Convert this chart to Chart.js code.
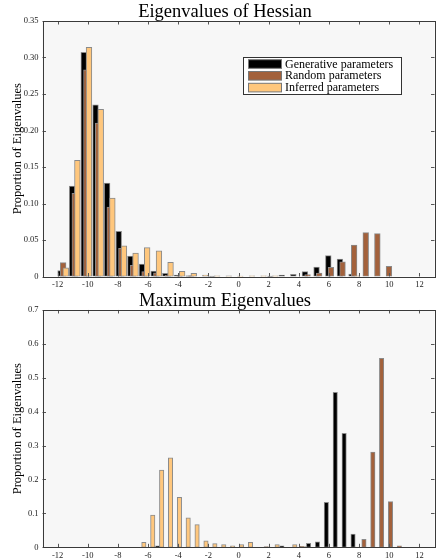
<!DOCTYPE html>
<html>
<head>
<meta charset="utf-8">
<script src="https://cdn.jsdelivr.net/npm/chart.js@4.4.0/dist/chart.umd.min.js"></script>
<style>
  html, body { margin: 0; padding: 0; background: #fff; overflow: hidden; width: 441px; height: 560px; }
  .panel { position: absolute; left: 0; width: 450px; }
  #panelTop { top: 0; height: 290px; }
  #panelBottom { top: 290px; height: 270px; }
  canvas { display: block; }
</style>
</head>
<body>
<div class="panel" id="panelTop"><canvas id="hessChart" width="450" height="290"></canvas></div>
<div class="panel" id="panelBottom"><canvas id="maxChart" width="450" height="270"></canvas></div>
<script>
// ---- data ----------------------------------------------------------------
const seriesNames = ['Generative parameters', 'Random parameters', 'Inferred parameters'];
const xTickValues = [-12, -10, -8, -6, -4, -2, 0, 2, 4, 6, 8, 10, 12];

// Eigenvalues of Hessian: histogram bin centres and proportions
const hessBins = [-11.63, -10.86, -10.09, -9.31, -8.54, -7.77, -7.00, -6.23, -5.45, -4.68,
                  -3.91, -3.14, -2.37, -1.59, -0.82, -0.05, 0.72, 1.49, 2.27, 3.04,
                  3.81, 4.58, 5.35, 6.13, 6.90, 7.67, 8.44, 9.21, 9.98];
const hessGenerative = [0.008, 0.124, 0.307, 0.235, 0.128, 0.062, 0.028, 0.017, 0.0075, 0.0044,
                        0.002, 0.001, 0, 0.0005, 0, 0, 0, 0, 0.0005, 0.002,
                        0.003, 0.0066, 0.013, 0.0285, 0.024, 0.0034, 0, 0, 0];
const hessRandom = [0.019, 0.114, 0.283, 0.210, 0.095, 0.0386, 0.0153, 0.0066, 0.005, 0.002,
                    0.001, 0.001, 0, 0, 0, 0, 0, 0, 0, 0,
                    0, 0.0025, 0.0048, 0.0126, 0.020, 0.043, 0.060, 0.0587, 0.014];
const hessInferred = [0.012, 0.159, 0.314, 0.229, 0.1075, 0.042, 0.032, 0.0395, 0.0353, 0.0195,
                      0.0072, 0.0044, 0.002, 0.001, 0.0008, 0.0005, 0.001, 0.001, 0.001, 0,
                      0, 0, 0, 0, 0, 0.001, 0, 0, 0];

// Maximum eigenvalues: histogram bin centres and proportions
const maxBins = [-6.41, -5.82, -5.23, -4.64, -4.05, -3.47, -2.88, -2.29, -1.70, -1.11,
                 -0.52, 0.07, 0.66, 1.25, 1.84, 2.43, 3.01, 3.60, 4.19, 4.78,
                 5.37, 5.96, 6.55, 7.14, 7.73, 8.32, 8.91, 9.49, 10.08, 10.67];
const maxGenerative = [0, 0, 0.004, 0, 0, 0, 0, 0, 0, 0,
                       0, 0, 0, 0, 0, 0, 0.004, 0, 0, 0.012,
                       0.016, 0.133, 0.457, 0.336, 0.039, 0, 0, 0, 0, 0];
const maxRandom = [0, 0, 0, 0, 0, 0, 0, 0, 0, 0,
                   0, 0, 0, 0, 0.002, 0, 0, 0, 0.003, 0,
                   0, 0, 0, 0, 0, 0.0236, 0.281, 0.5575, 0.1345, 0.004];
const maxInferred = [0.015, 0.095, 0.228, 0.264, 0.1475, 0.087, 0.067, 0.019, 0.011, 0.0078,
                     0.0047, 0.0078, 0.0147, 0, 0.001, 0.008, 0, 0.008, 0.002, 0,
                     0, 0, 0, 0, 0.001, 0, 0, 0, 0, 0];

// ---- styling ---------------------------------------------------------------
const SERIF = "'Liberation Serif', 'DejaVu Serif', serif";
const COLORS = ['#000000', '#a3613b', '#ffc77d'];
const EDGE = '#8a8a8a';
// side-by-side placement inside each bin (fraction of bin width), and draw order
const BAR_SHIFT = [-0.225, 0, 0.225];
const DRAW_ORDER = [2, 1, 0];   // inferred on top, generative underneath

function buildDatasets(bins, seriesValues, thickness) {
  const step = bins[1] - bins[0];
  return seriesValues.map((vals, s) => ({
    label: seriesNames[s],
    data: bins.map((b, i) => ({ x: b + BAR_SHIFT[s] * step, y: vals[i] })),
    backgroundColor: COLORS[s],
    borderColor: EDGE,
    borderWidth: 1,
    borderSkipped: false,
    grouped: false,
    barThickness: thickness,
    order: DRAW_ORDER[s]
  }));
}

// plot-area background, box frame and inward tick marks on all four sides
const framePlugin = {
  id: 'frame',
  afterLayout(chart) {
    // centre the title over the figure rather than over the padded layout box
    if (chart.titleBlock) chart.titleBlock.left = 15.5;
  },
  beforeDraw(chart) {
    const { ctx, chartArea: a } = chart;
    ctx.save();
    ctx.fillStyle = '#f7f7f7';
    ctx.fillRect(a.left, a.top, a.right - a.left, a.bottom - a.top);
    ctx.restore();
  },
  afterDatasetsDraw(chart) {
    const { ctx, chartArea: a, scales: { x, y } } = chart;
    const len = 3.5;
    ctx.save();
    ctx.strokeStyle = '#555';
    ctx.lineWidth = 1;
    ctx.beginPath();
    x.ticks.forEach(t => {
      const px = Math.round(x.getPixelForValue(t.value)) + 0.5;
      ctx.moveTo(px, a.bottom); ctx.lineTo(px, a.bottom - len);
      ctx.moveTo(px, a.top); ctx.lineTo(px, a.top + len);
    });
    y.ticks.forEach(t => {
      const py = Math.round(y.getPixelForValue(t.value)) + 0.5;
      ctx.moveTo(a.left, py); ctx.lineTo(a.left + len, py);
      ctx.moveTo(a.right, py); ctx.lineTo(a.right - len, py);
    });
    ctx.stroke();
    ctx.strokeStyle = '#3a3a3a';
    ctx.strokeRect(Math.round(a.left) + 0.5, Math.round(a.top) + 0.5,
                   Math.round(a.right - a.left), Math.round(a.bottom - a.top));
    ctx.restore();
  }
};

// boxed legend placed inside the plot area, upper right
const boxLegendPlugin = {
  id: 'boxLegend',
  afterDraw(chart, args, opts) {
    if (!opts.display) return;
    const { ctx, chartArea: a } = chart;
    const x0 = a.left + opts.offsetX, y0 = a.top + opts.offsetY;
    ctx.save();
    ctx.fillStyle = '#fff';
    ctx.fillRect(x0, y0, opts.width, opts.height);
    ctx.strokeStyle = '#333';
    ctx.lineWidth = 1;
    ctx.strokeRect(Math.round(x0) + 0.5, Math.round(y0) + 0.5, opts.width, opts.height);
    ctx.font = '12px ' + SERIF;
    ctx.textBaseline = 'middle';
    chart.data.datasets.forEach((ds, i) => {
      const cy = y0 + 7 + i * 11.8;
      ctx.fillStyle = ds.backgroundColor;
      ctx.fillRect(x0 + 5.5, cy - 4.3, 33, 8.6);
      ctx.strokeStyle = '#777';
      ctx.strokeRect(x0 + 5.5, cy - 4.3, 33, 8.6);
      ctx.fillStyle = '#000';
      ctx.fillText(ds.label, x0 + 42, cy + 0.5);
    });
    ctx.restore();
  }
};

function makeChart(canvasId, title, bins, seriesValues, yMax, yStep, thickness, axisHeight, titleCfg, showLegend) {
  return new Chart(document.getElementById(canvasId), {
    type: 'bar',
    data: { datasets: buildDatasets(bins, seriesValues, thickness) },
    plugins: [framePlugin, boxLegendPlugin],
    options: {
      responsive: false,
      animation: false,
      devicePixelRatio: 1,
      layout: { padding: { left: 0, right: 15.5, top: 0, bottom: 0 } },
      plugins: {
        legend: { display: false },
        tooltip: { enabled: false },
        title: {
          display: true,
          text: title,
          color: '#000',
          font: { family: SERIF, size: 18.5, weight: 'normal', lineHeight: titleCfg.lineHeight },
          padding: { top: titleCfg.top, bottom: titleCfg.bottom }
        },
        boxLegend: { display: showLegend, offsetX: 200.5, offsetY: 36, width: 158, height: 37 }
      },
      scales: {
        x: {
          type: 'linear',
          min: -12, max: 12,
          grid: { display: false, drawTicks: false },
          border: { display: false },
          afterBuildTicks: s => { s.ticks = xTickValues.map(v => ({ value: v })); },
          ticks: { color: '#222', font: { family: SERIF, size: 8.5 }, padding: 3, maxRotation: 0, autoSkip: false },
          afterFit: s => { s.height = axisHeight; }
        },
        y: {
          min: 0, max: yMax,
          grid: { display: false, drawTicks: false },
          border: { display: false },
          ticks: { stepSize: yStep, color: '#222', font: { family: SERIF, size: 8.5 }, padding: 4 },
          title: {
            display: true,
            text: 'Proportion of Eigenvalues',
            color: '#000',
            font: { family: SERIF, size: 12.5 },
            padding: { top: 10, bottom: 0 }
          },
          afterFit: s => { s.width = 42.5; }
        }
      }
    }
  });
}

makeChart('hessChart', 'Eigenvalues of Hessian', hessBins,
          [hessGenerative, hessRandom, hessInferred], 0.35, 0.05, 5.7, 13.5,
          { lineHeight: 1, top: 2.5, bottom: 0 }, true);

makeChart('maxChart', 'Maximum Eigenvalues', maxBins,
          [maxGenerative, maxRandom, maxInferred], 0.7, 0.1, 4.4, 12.7,
          { lineHeight: 0.95, top: 2.2, bottom: 0.2 }, false);
</script>
</body>
</html>
